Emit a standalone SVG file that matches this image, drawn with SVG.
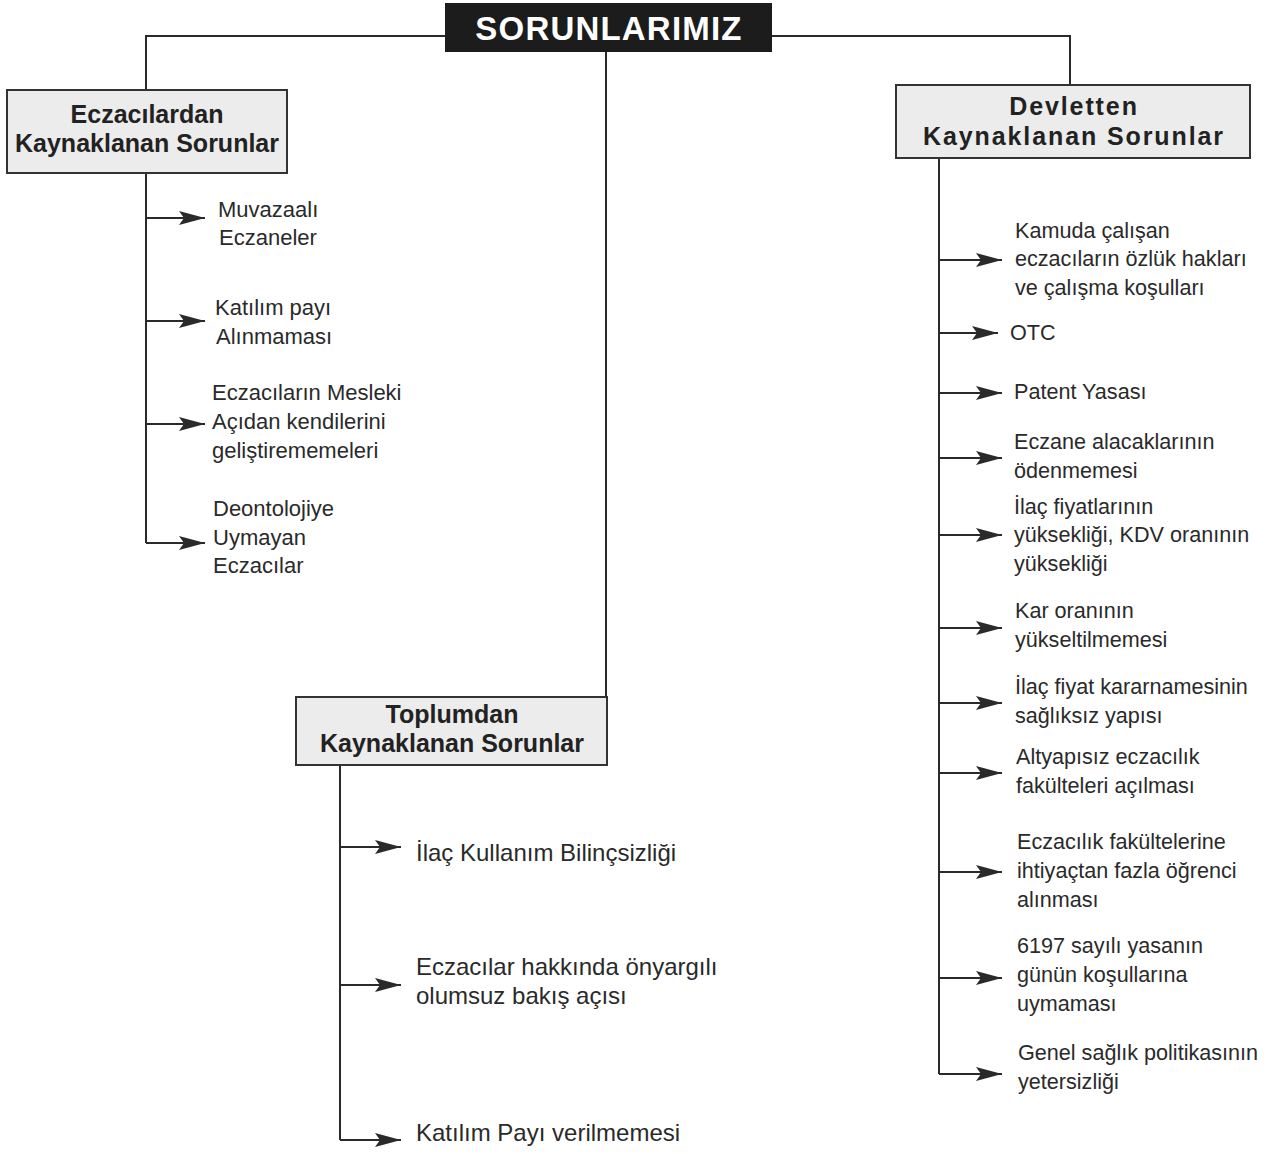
<svg xmlns="http://www.w3.org/2000/svg" width="1274" height="1154" viewBox="0 0 1274 1154">
<defs>
<marker id="arr" markerUnits="userSpaceOnUse" markerWidth="30" markerHeight="18" refX="28" refY="9" orient="auto" viewBox="0 0 30 18">
<path d="M28,9 L2,2 L7,9 L2,16 Z" fill="#2a2a2a"/>
</marker>
<style>
.ln{fill:none;stroke:#2a2a2a;stroke-width:2}
.ar{fill:none;stroke:#2a2a2a;stroke-width:2;marker-end:url(#arr)}
.box{fill:#ececec;stroke:#333;stroke-width:2}
.hd{font-family:"Liberation Sans",Arial,sans-serif;font-weight:bold;font-size:25px;fill:#222;text-anchor:middle}
.it{font-family:"Liberation Sans",Arial,sans-serif;font-size:22px;fill:#2a2a2a}
.ir{font-size:21.6px}
.im{font-size:24px}
</style>
</defs>
<rect width="1274" height="1154" fill="#ffffff"/>
<g id="connectors">
<path class="ln" d="M146,90 V36 H445"/>
<path class="ln" d="M772,36 H1070 V85"/>
<path class="ln" d="M606,52 V697"/>
<path class="ln" d="M146,173 V543"/>
<path class="ar" d="M146,218 H205"/>
<path class="ar" d="M146,321 H205"/>
<path class="ar" d="M146,424 H205"/>
<path class="ar" d="M146,543 H205"/>
<path class="ln" d="M939,158 V1074"/>
<path class="ar" d="M939,260 H1002"/>
<path class="ar" d="M939,333 H998"/>
<path class="ar" d="M939,393 H1002"/>
<path class="ar" d="M939,458 H1002"/>
<path class="ar" d="M939,535 H1002"/>
<path class="ar" d="M939,628 H1002"/>
<path class="ar" d="M939,703 H1002"/>
<path class="ar" d="M939,773 H1002"/>
<path class="ar" d="M939,872 H1002"/>
<path class="ar" d="M939,978 H1002"/>
<path class="ar" d="M939,1074 H1002"/>
<path class="ln" d="M340,765 V1140"/>
<path class="ar" d="M340,847 H401"/>
<path class="ar" d="M340,985 H401"/>
<path class="ar" d="M340,1140 H401"/>
</g>
<g id="title">
<rect x="445" y="3" width="327" height="49" fill="#1c1c1c"/>
<text x="609" y="40" font-family="Liberation Sans,Arial,sans-serif" font-weight="bold" font-size="33" letter-spacing="1.2" fill="#ffffff" text-anchor="middle">SORUNLARIMIZ</text>
</g>
<g id="eczacilardan">
<rect class="box" x="7" y="90" width="280" height="83"/>
<text class="hd" x="147" y="123">Eczacılardan</text>
<text class="hd" x="147" y="152">Kaynaklanan Sorunlar</text>
</g>
<g id="devletten">
<rect class="box" x="896" y="85" width="354" height="73"/>
<text class="hd" x="1074" y="115" letter-spacing="1.9">Devletten</text>
<text class="hd" x="1074" y="145" letter-spacing="1.9">Kaynaklanan Sorunlar</text>
</g>
<g id="toplumdan">
<rect class="box" x="296" y="697" width="311" height="68"/>
<text class="hd" x="452" y="723">Toplumdan</text>
<text class="hd" x="452" y="752">Kaynaklanan Sorunlar</text>
</g>
<g id="e1"><text class="it" x="218" y="217">Muvazaalı</text><text class="it" x="219" y="245">Eczaneler</text></g>
<g id="e2"><text class="it" x="215" y="315">Katılım payı</text><text class="it" x="216" y="344">Alınmaması</text></g>
<g id="e3"><text class="it" x="212" y="400">Eczacıların Mesleki</text><text class="it" x="212" y="429">Açıdan kendilerini</text><text class="it" x="212" y="458">geliştirememeleri</text></g>
<g id="e4"><text class="it" x="213" y="516">Deontolojiye</text><text class="it" x="213" y="545">Uymayan</text><text class="it" x="213" y="573">Eczacılar</text></g>
<g id="d1"><text class="it ir" x="1015" y="238">Kamuda çalışan</text><text class="it ir" x="1015" y="266">eczacıların özlük hakları</text><text class="it ir" x="1015" y="295">ve çalışma koşulları</text></g>
<g id="d2"><text class="it ir" x="1010" y="340">OTC</text></g>
<g id="d3"><text class="it ir" x="1014" y="399">Patent Yasası</text></g>
<g id="d4"><text class="it ir" x="1014" y="449">Eczane alacaklarının</text><text class="it ir" x="1014" y="478">ödenmemesi</text></g>
<g id="d5"><text class="it ir" x="1014" y="514">İlaç fiyatlarının</text><text class="it ir" x="1014" y="542">yüksekliği, KDV oranının</text><text class="it ir" x="1014" y="571">yüksekliği</text></g>
<g id="d6"><text class="it ir" x="1015" y="618">Kar oranının</text><text class="it ir" x="1015" y="647">yükseltilmemesi</text></g>
<g id="d7"><text class="it ir" x="1015" y="694">İlaç fiyat kararnamesinin</text><text class="it ir" x="1015" y="723">sağlıksız yapısı</text></g>
<g id="d8"><text class="it ir" x="1016" y="764">Altyapısız eczacılık</text><text class="it ir" x="1016" y="793">fakülteleri açılması</text></g>
<g id="d9"><text class="it ir" x="1017" y="849">Eczacılık fakültelerine</text><text class="it ir" x="1017" y="878">ihtiyaçtan fazla öğrenci</text><text class="it ir" x="1017" y="907">alınması</text></g>
<g id="d10"><text class="it ir" x="1017" y="953">6197 sayılı yasanın</text><text class="it ir" x="1017" y="982">günün koşullarına</text><text class="it ir" x="1017" y="1011">uymaması</text></g>
<g id="d11"><text class="it ir" x="1018" y="1060">Genel sağlık politikasının</text><text class="it ir" x="1018" y="1089">yetersizliği</text></g>
<g id="t1"><text class="it im" x="416" y="861">İlaç Kullanım Bilinçsizliği</text></g>
<g id="t2"><text class="it im" x="416" y="975">Eczacılar hakkında önyargılı</text><text class="it im" x="416" y="1004">olumsuz bakış açısı</text></g>
<g id="t3"><text class="it im" x="416" y="1141">Katılım Payı verilmemesi</text></g>
</svg>
